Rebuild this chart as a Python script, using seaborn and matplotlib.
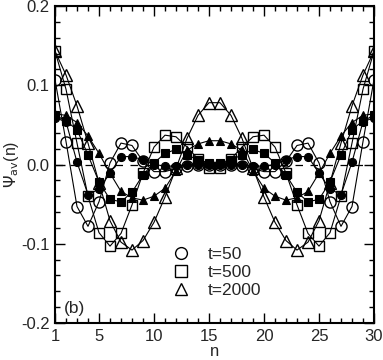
import numpy as np
import pandas as pd
import seaborn as sns
import matplotlib
matplotlib.use("Agg")
import matplotlib.pyplot as plt
from matplotlib.lines import Line2D
from matplotlib.ticker import MultipleLocator, FormatStrFormatter

# ---- data ----
n = list(range(1, 31))

open_t50 = [0.107, 0.029, -0.053, -0.078, -0.047, 0.002, 0.027, 0.024, 0.004, -0.009,
            -0.009, -0.005, -0.002, -0.001, -0.001, -0.001, -0.001, -0.002, -0.005, -0.009,
            -0.009, 0.004, 0.024, 0.027, 0.002, -0.047, -0.078, -0.053, 0.029, 0.107]
open_t500 = [0.143, 0.095, 0.027, -0.040, -0.086, -0.103, -0.087, -0.051, -0.011, 0.022,
             0.037, 0.035, 0.022, 0.007, -0.005, -0.005, 0.007, 0.022, 0.035, 0.037,
             0.022, -0.011, -0.051, -0.087, -0.103, -0.086, -0.040, 0.027, 0.095, 0.143]
open_t2000 = [0.143, 0.113, 0.074, 0.027, -0.023, -0.071, -0.098, -0.108, -0.096, -0.073,
              -0.041, -0.005, 0.033, 0.062, 0.078, 0.078, 0.062, 0.033, -0.005, -0.041,
              -0.073, -0.096, -0.108, -0.098, -0.071, -0.023, 0.027, 0.074, 0.113, 0.143]
filled_t50 = [0.059, 0.054, 0.003, -0.038, -0.031, -0.011, 0.010, 0.010, 0.006, 0.000,
              -0.002, -0.002, -0.001, -0.001, -0.001, -0.001, -0.001, -0.001, -0.002, -0.002,
              0.000, 0.006, 0.010, 0.010, -0.011, -0.031, -0.038, 0.003, 0.054, 0.059]
filled_t500 = [0.062, 0.055, 0.044, 0.012, -0.022, -0.044, -0.047, -0.035, -0.013, 0.002,
               0.014, 0.019, 0.012, 0.006, 0.002, 0.002, 0.006, 0.012, 0.019, 0.014,
               0.002, -0.013, -0.035, -0.047, -0.044, -0.022, 0.012, 0.044, 0.055, 0.062]
filled_t2000 = [0.064, 0.062, 0.053, 0.036, 0.014, -0.011, -0.034, -0.042, -0.045, -0.040,
                -0.030, -0.008, 0.018, 0.026, 0.030, 0.030, 0.026, 0.018, -0.008, -0.030,
                -0.040, -0.045, -0.042, -0.034, -0.011, 0.014, 0.036, 0.053, 0.062, 0.064]

legend_labels = ["t=50", "t=500", "t=2000"]
markers = ["o", "s", "^"]

sns.set_theme(style="ticks")
plt.rcParams['font.family'] = ['Liberation Sans', 'DejaVu Sans']
plt.rcParams['axes.unicode_minus'] = False
plt.rcParams['mathtext.fontset'] = 'dejavusans'

fig = plt.figure(figsize=(3.83, 3.60), dpi=100)
ax = fig.add_axes([0.1436, 0.1028, 0.8329, 0.8805])

# zero dashed line
ax.axhline(0.0, color='black', linestyle=(0, (6, 6)), linewidth=0.9, zorder=1)

filled = [filled_t50, filled_t500, filled_t2000]
opened = [open_t50, open_t500, open_t2000]

for vals, m in zip(filled, markers):
    sns.lineplot(x=n, y=vals, ax=ax, color='black', linewidth=0.8, marker=m,
                 markersize=5.2 if m != 'o' else 5.8, markerfacecolor='black',
                 markeredgecolor='black', markeredgewidth=0.8, zorder=2)
for vals, m in zip(opened, markers):
    sns.lineplot(x=n, y=vals, ax=ax, color='black', linewidth=0.8, marker=m,
                 markersize=8.0 if m != 's' else 7.3, markerfacecolor='none',
                 markeredgecolor='black', markeredgewidth=1.0, zorder=3)

ax.set_xlim(1, 30)
ax.set_ylim(-0.2, 0.2)
ax.set_xticks([1, 5, 10, 15, 20, 25, 30])
ax.xaxis.set_minor_locator(MultipleLocator(1))
ax.set_yticks([-0.2, -0.1, 0.0, 0.1, 0.2])
ax.yaxis.set_minor_locator(MultipleLocator(0.02))
ax.yaxis.set_major_formatter(FormatStrFormatter('%.1f'))

ax.tick_params(which='both', direction='in', top=True, right=True, color='black', width=1.0)
ax.tick_params(which='major', length=7, labelsize=12, pad=4)
ax.tick_params(which='minor', length=3.5)
for s in ax.spines.values():
    s.set_linewidth(1.5)
    s.set_color('black')

ax.set_xlabel('n', fontsize=12, labelpad=0)
ax.set_ylabel(r'$\Psi_{\rm av}$(n)', fontsize=11.5, labelpad=0)

ax.text(0.028, 0.032, '(b)', transform=ax.transAxes, fontsize=12.5, ha='left', va='baseline')

handles = [Line2D([], [], linestyle='none', marker=m, markersize=8.5, markerfacecolor='none',
                  markeredgecolor='black', markeredgewidth=1.0) for m in markers]
ax.legend(handles, legend_labels, loc='upper left', bbox_to_anchor=(0.369, 0.24),
          frameon=False, fontsize=12.5, handlelength=1.0, handletextpad=1.0,
          labelspacing=0.15, borderpad=0.0, borderaxespad=0.0)

fig.savefig('out.png', dpi=100)
